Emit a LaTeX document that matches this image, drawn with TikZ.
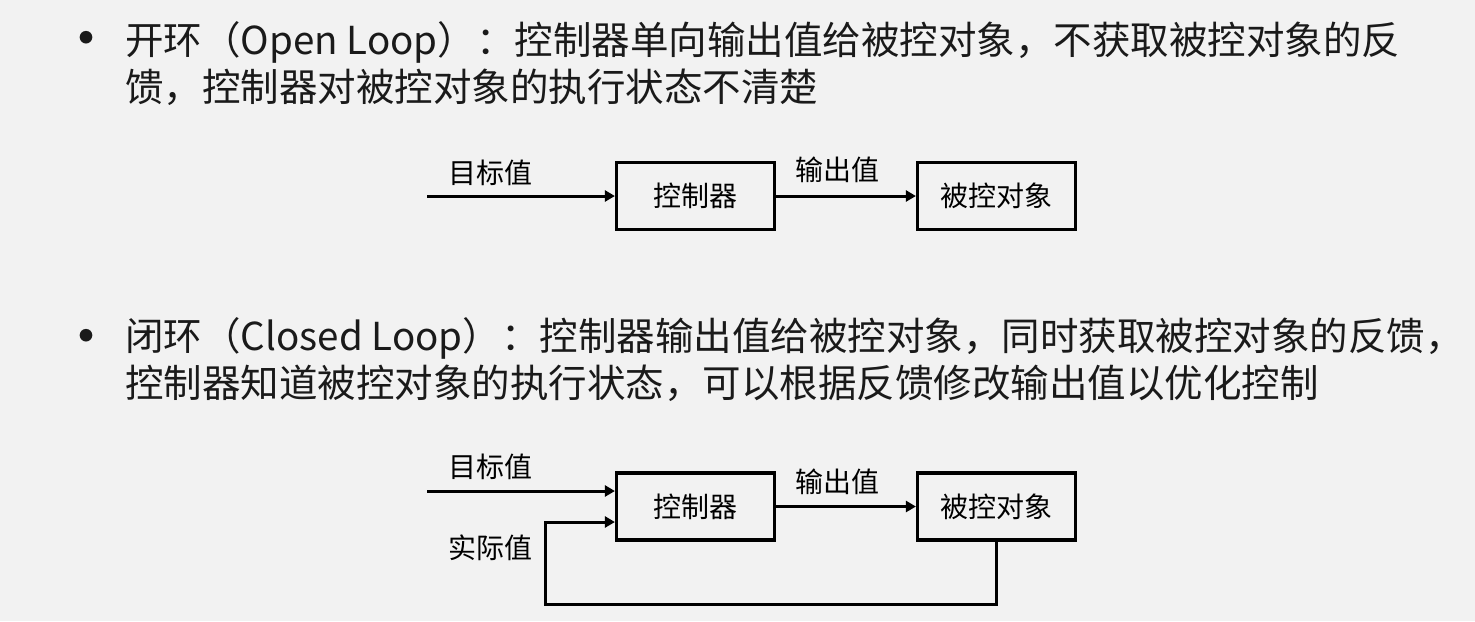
\documentclass[tikz,border=0pt]{standalone}
\usepackage{fontspec}
\setmainfont{Noto Sans CJK SC}
\usetikzlibrary{arrows.meta,positioning}
\definecolor{slidebg}{HTML}{F2F2F2}
\definecolor{slideink}{HTML}{1A1A1A}

\begin{document}
\begin{tikzpicture}[x=.5pt,y=-.5pt,font=\fontsize{19.25}{23.5}\selectfont,
 box/.style={draw=black,line width=1.6pt,minimum width=79pt,minimum height=33.5pt,inner sep=0pt,font=\fontsize{14}{17}\selectfont},
 ar/.style={-{Triangle[length=5pt,width=5.5pt]},line width=1.5pt,draw=black},
 lab/.style={font=\fontsize{14}{17}\selectfont,inner sep=0pt},
 dot/.style={text=slideink,inner sep=0pt,font=\fontsize{30}{30}\selectfont},
 item/.style={anchor=base west,align=left,inner sep=0pt,text=slideink}]
\path[fill=slidebg,use as bounding box] (0,0) rectangle (1475,621);
% open loop
\node[dot] (dotA) at (86,46) {•};
\node[item] (openA) at (125,101) {开环（Open Loop）：控制器单向输出值给被控对象，不获取被控对象的反\\馈，控制器对被控对象的执行状态不清楚};
\node[box] (ctrlA) at (695.5,196) {控制器};
\node[box] (plantA) at (996.5,196) {被控对象};
\coordinate (inA) at (427,196);
\node[lab] (refA) at (490,173) {目标值};
\node[lab] (outA) at (837,170) {输出值};
\draw[ar] (inA) -- (ctrlA);
\draw[ar] (ctrlA) -- (plantA);
% closed loop
\node[dot] (dotB) at (86,344) {•};
\node[item] (closeB) at (125,397) {闭环（Closed Loop）：控制器输出值给被控对象，同时获取被控对象的反馈，\\控制器知道被控对象的执行状态，可以根据反馈修改输出值以优化控制};
\node[box] (ctrlB) at (695.5,506.5) {控制器};
\node[box] (plantB) at (996.5,506.5) {被控对象};
\coordinate (inB) at (427,491);
\coordinate (fbB) at (545,604);
\node[lab] (refB) at (490,467) {目标值};
\node[lab] (outB) at (837,482) {输出值};
\node[lab] (actB) at (490,548) {实际值};
\draw[ar] (inB) -- (inB -| ctrlB.west);
\draw[ar] (ctrlB) -- (plantB);
\draw[ar] (plantB.south) |- (fbB) |- ([yshift=-7.75pt]ctrlB.west);
\end{tikzpicture}
\end{document}
